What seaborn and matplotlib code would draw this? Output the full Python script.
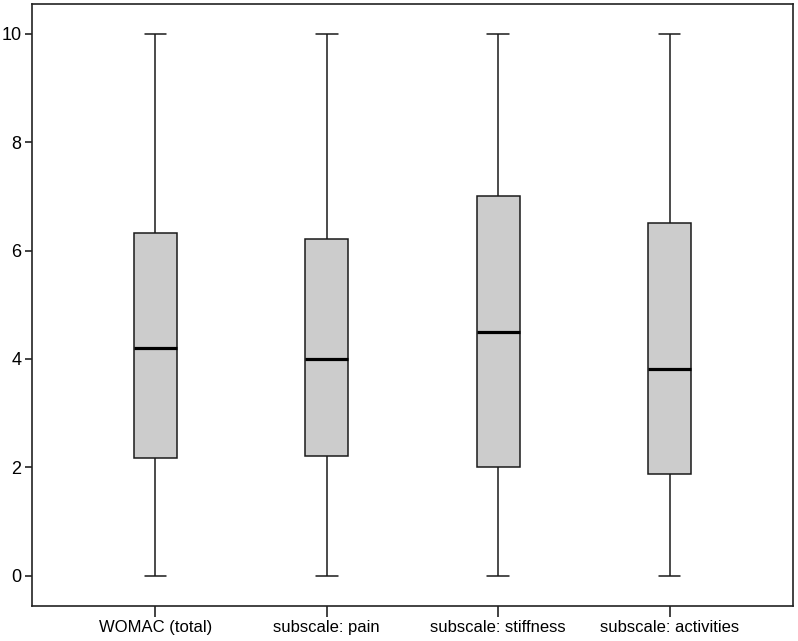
import numpy as np
import pandas as pd
import matplotlib
matplotlib.use("Agg")
import matplotlib.pyplot as plt
import seaborn as sns

categories = ["WOMAC (total)", "subscale: pain", "subscale: stiffness", "subscale: activities"]
minimum = [0.0, 0.0, 0.0, 0.0]
q1 = [2.17, 2.20, 2.00, 1.88]
median = [4.21, 4.00, 4.50, 3.82]
q3 = [6.32, 6.21, 7.00, 6.50]
maximum = [10.0, 10.0, 10.0, 10.0]
yticks = [0, 2, 4, 6, 8, 10]

rows = []
for i, c in enumerate(categories):
    for v in (minimum[i], q1[i], median[i], q3[i], maximum[i]):
        rows.append({"scale": c, "value": v})
df = pd.DataFrame(rows)

sns.set_theme(style="white")
plt.rcParams['font.family'] = ['Liberation Sans', 'DejaVu Sans']

fig = plt.figure(figsize=(7.98, 6.41), dpi=100)
ax = fig.add_axes([0.0401, 0.0546, 0.9536, 0.9392])

sns.boxplot(data=df, x="scale", y="value", order=categories, ax=ax,
            width=0.25, whis=(0, 100), color="#cccccc", saturation=1,
            linecolor="#1a1a1a", linewidth=1.1,
            medianprops=dict(color="black", linewidth=2.3),
            capwidths=0.125)

ax.set_xlim(-0.72, 3.72)
ax.set_ylim(-0.56, 10.55)
ax.set_yticks(yticks)
ax.set_yticklabels([str(t) for t in yticks])
ax.set_xlabel("")
ax.set_ylabel("")
for s in ax.spines.values():
    s.set_visible(True)
    s.set_color("#222222")
    s.set_linewidth(1.2)
ax.tick_params(axis="y", direction="out", length=5, width=1.2, color="#222222",
               labelsize=13, labelcolor="black", pad=2.5, left=True)
ax.tick_params(axis="x", direction="out", length=8, width=1.2, color="#222222",
               labelsize=12, labelcolor="black", pad=2, bottom=True)

fig.savefig("out.png", dpi=100)
